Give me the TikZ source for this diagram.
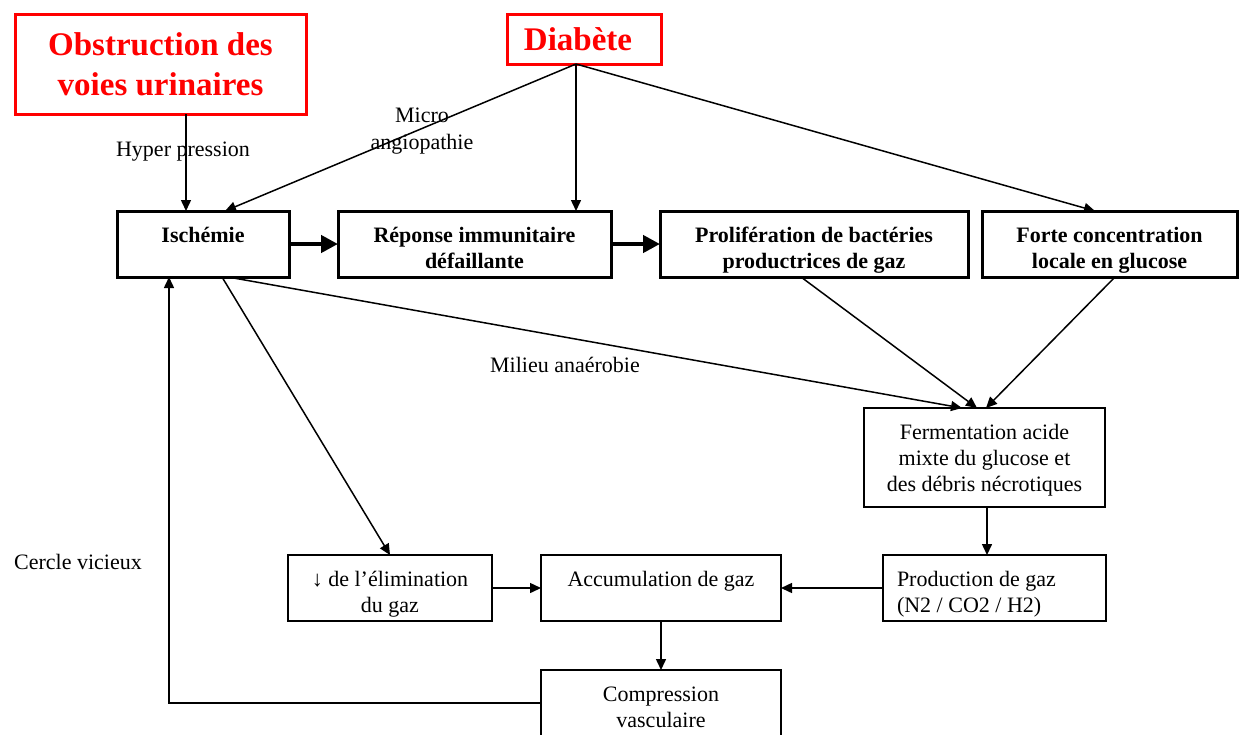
\documentclass[tikz,border=0pt]{standalone}
\usepackage{fontspec}
\setmainfont{Liberation Serif}
\usetikzlibrary{arrows.meta}
\newcommand\tb{\rule{0pt}{28pt}}
\newcommand\tf{\rule{0pt}{22pt}}
\newcommand\bb{\rule[-6pt]{0pt}{6pt}}
\begin{document}
\begin{tikzpicture}[x=1pt,y=-1pt,
  every node/.style={font=\fontsize{22}{26}\selectfont, inner sep=0pt, outer sep=0pt},
  redbox/.style={draw=red, line width=3pt, text=red, font=\fontsize{33}{40}\selectfont\bfseries, align=center},
  boldbox/.style={draw, line width=3pt, font=\fontsize{22}{26}\selectfont\bfseries, align=center, minimum height=66pt},
  thinbox/.style={draw, line width=1.4pt, align=center},
  arr/.style={-{Triangle[length=11pt,width=10pt]}, line width=1.5pt},
  thickarr/.style={-{Triangle[length=17pt,width=17pt]}, line width=4.5pt},
  lbl/.style={font=\fontsize{22}{27}\selectfont, align=center}
]
\useasboundingbox (0,0) rectangle (1244,734);
\clip (0,0) rectangle (1244,734);

% sources
\node[redbox, minimum width=291pt, minimum height=100pt] (obs) at (160.5,64) {Obstruction des\\voies urinaires};
\node[redbox, minimum width=154pt, minimum height=50pt] (diab) at (584,39) {Diabète\hspace*{12pt}};

% top row
\node[boldbox, minimum width=172pt] (isch) at (203,244) {\tb Ischémie\\\bb};
\node[boldbox, minimum width=273pt] (rep) at (474.5,244) {\tb Réponse immunitaire\\défaillante\bb};
\node[boldbox, minimum width=308pt] (prol) at (814,244) {\tb Prolifération de bactéries\\productrices de gaz\bb};
\node[boldbox, minimum width=255pt] (forte) at (1109.5,244) {\tb Forte concentration\\locale en glucose\bb};

% lower boxes
\node[thinbox, minimum width=241pt, minimum height=99pt] (ferm) at (984.5,457.5) {\tf Fermentation acide\\mixte du glucose et\\des débris nécrotiques\bb};
\node[thinbox, minimum width=223pt, minimum height=66pt, text width=195pt, align=flush left, inner xsep=14pt] (prod) at (994.5,588) {\tb Production de gaz\\(N2 / CO2 / H2)\bb};
\node[thinbox, minimum width=240pt, minimum height=66pt] (acc) at (661,588) {\tb Accumulation de gaz\\\bb};
\node[thinbox, minimum width=204pt, minimum height=66pt] (elim) at (390,588) {\tb ↓ de l’élimination\\du gaz\bb};
\node[thinbox, minimum width=240pt, minimum height=66pt] (comp) at (661,703) {\tb Compression\\vasculaire\bb};

% labels
\node[lbl] (lhyp) at (183,152) {Hyper pression};
\node[lbl] (lmic) at (422,131) {Micro\\angiopathie};
\node[lbl] (lmil) at (565,365) {Milieu anaérobie};
\node[lbl] (lcer) at (78,562) {Cercle vicieux};

% connectors
\coordinate (dapex) at ([xshift=-8pt]diab.south);
\draw[arr] ([xshift=25.5pt]obs.south) -- ([xshift=-17pt]isch.north);
\draw[arr] (dapex) -- ([xshift=22pt]isch.north);
\draw[arr] (dapex) -- ([xshift=101.5pt]rep.north);
\draw[arr] (dapex) -- ([xshift=-14.5pt]forte.north);

\draw[thickarr] (isch.east) -- (rep.west);
\draw[thickarr] (rep.east) -- (prol.west);

\draw[arr] ([xshift=19pt]isch.south) -- (elim.north);
\draw[arr] ([xshift=25pt]isch.south) -- ([xshift=-22.5pt]ferm.north);
\draw[arr] ([xshift=-13pt]prol.south) -- ([xshift=-7.5pt]ferm.north);
\draw[arr] ([xshift=5.5pt]forte.south) -- ([xshift=1.5pt]ferm.north);

\draw[arr] ([xshift=2.5pt]ferm.south) -- ([xshift=-7.5pt]prod.north);
\draw[arr] (prod.west) -- (acc.east);
\draw[arr] (elim.east) -- (acc.west);
\draw[arr] (acc.south) -- (comp.north);
\draw[arr] (comp.west) -| ([xshift=-34pt]isch.south);
\end{tikzpicture}
\end{document}
